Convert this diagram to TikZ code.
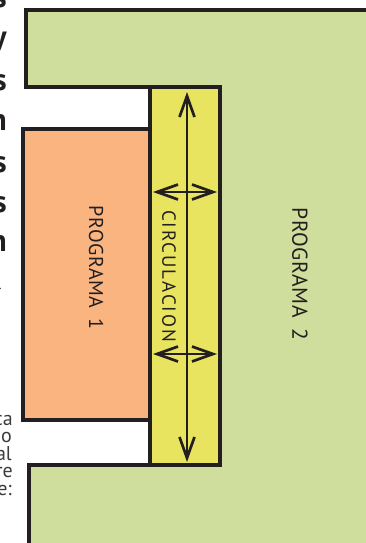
\documentclass[tikz,border=0pt]{standalone}
\usepackage{fontspec}
\setmainfont{PT Sans}
\usetikzlibrary{arrows.meta}
\definecolor{verde}{RGB}{207,222,156}
\definecolor{naranja}{RGB}{250,180,128}
\definecolor{amarillo}{RGB}{233,228,96}
\definecolor{negro}{RGB}{35,31,32}
\definecolor{gris}{RGB}{60,60,60}
\tikzset{
  wall/.style={draw=negro, line width=4.5pt, miter limit=10},
  flecha/.style={draw=negro, line width=2.7pt, {Straight Barb[length=21pt,width=15pt]}-{Straight Barb[length=21pt,width=15pt]}},
  lbl/.style={text=negro, rotate=-90, inner sep=0pt},
  frag/.style={text=gris, anchor=base east, inner sep=0pt, font=\fontsize{20}{20}\selectfont},
  fragb/.style={text=negro, anchor=base east, inner sep=0pt, font=\fontsize{31}{31}\selectfont\bfseries},
}
\begin{document}
\begin{tikzpicture}[x=1pt,y=-1pt]
\useasboundingbox (0,0) rectangle (366,543);
% program 2 (green)
\fill[verde] (26,10) -- (370,10) -- (370,547) -- (29,547) -- (29,465) -- (150,465) -- (150,87) -- (26,87) -- cycle;
\draw[wall] (370,10) -- (26,10) -- (26,87) -- (150,87);
\draw[wall] (150,465) -- (29,465) -- (29,547);
% program 1 (orange)
\filldraw[wall, fill=naranja] (23,129) rectangle (150,420);
% circulation (yellow)
\filldraw[wall, fill=amarillo] (150,87) rectangle (220,465);
% labels
\node[lbl, font=\fontsize{20}{20}\selectfont\addfontfeatures{LetterSpace=3}] (p1) at (96,267.5) {PROGRAMA\hspace{0.5em}1};
\node[lbl, font=\fontsize{21.5}{21.5}\selectfont\addfontfeatures{LetterSpace=3}] (p2) at (300,274) {PROGRAMA\hspace{0.5em}2};
\node[lbl, font=\fontsize{19}{19}\selectfont\addfontfeatures{LetterSpace=10}] (circ) at (169,276) {CIRCULACION};
% arrows
\coordinate (vt) at (187,92);
\coordinate (vb) at (187,462);
\coordinate (h1l) at (153,192);
\coordinate (h1r) at (217,192);
\coordinate (h2l) at (153,354);
\coordinate (h2r) at (217,354);
\draw[flecha] (vt) -- (vb);
\draw[flecha] (h1l) -- (h1r);
\draw[flecha] (h2l) -- (h2r);
% cropped text fragments at the left edge
\node[fragb] (f1) at (7,8) {s};
\node[fragb] (f2) at (7,48) {y};
\node[fragb] (f3) at (7,90) {s};
\node[fragb] (f4) at (7,130) {n};
\node[fragb] (f5) at (7,172) {s};
\node[fragb] (f6) at (7,212) {s};
\node[fragb] (f7) at (7,251) {n};
\node[frag, font=\fontsize{12}{12}\selectfont] (f8) at (2,289) {.};
\node[frag] (g1) at (13,425) {ca};
\node[frag] (g2) at (12,442) {o};
\node[frag] (g3) at (12,460) {al};
\node[frag] (g4) at (13,477) {re};
\node[frag] (g5) at (12,495) {e:};
\end{tikzpicture}
\end{document}
